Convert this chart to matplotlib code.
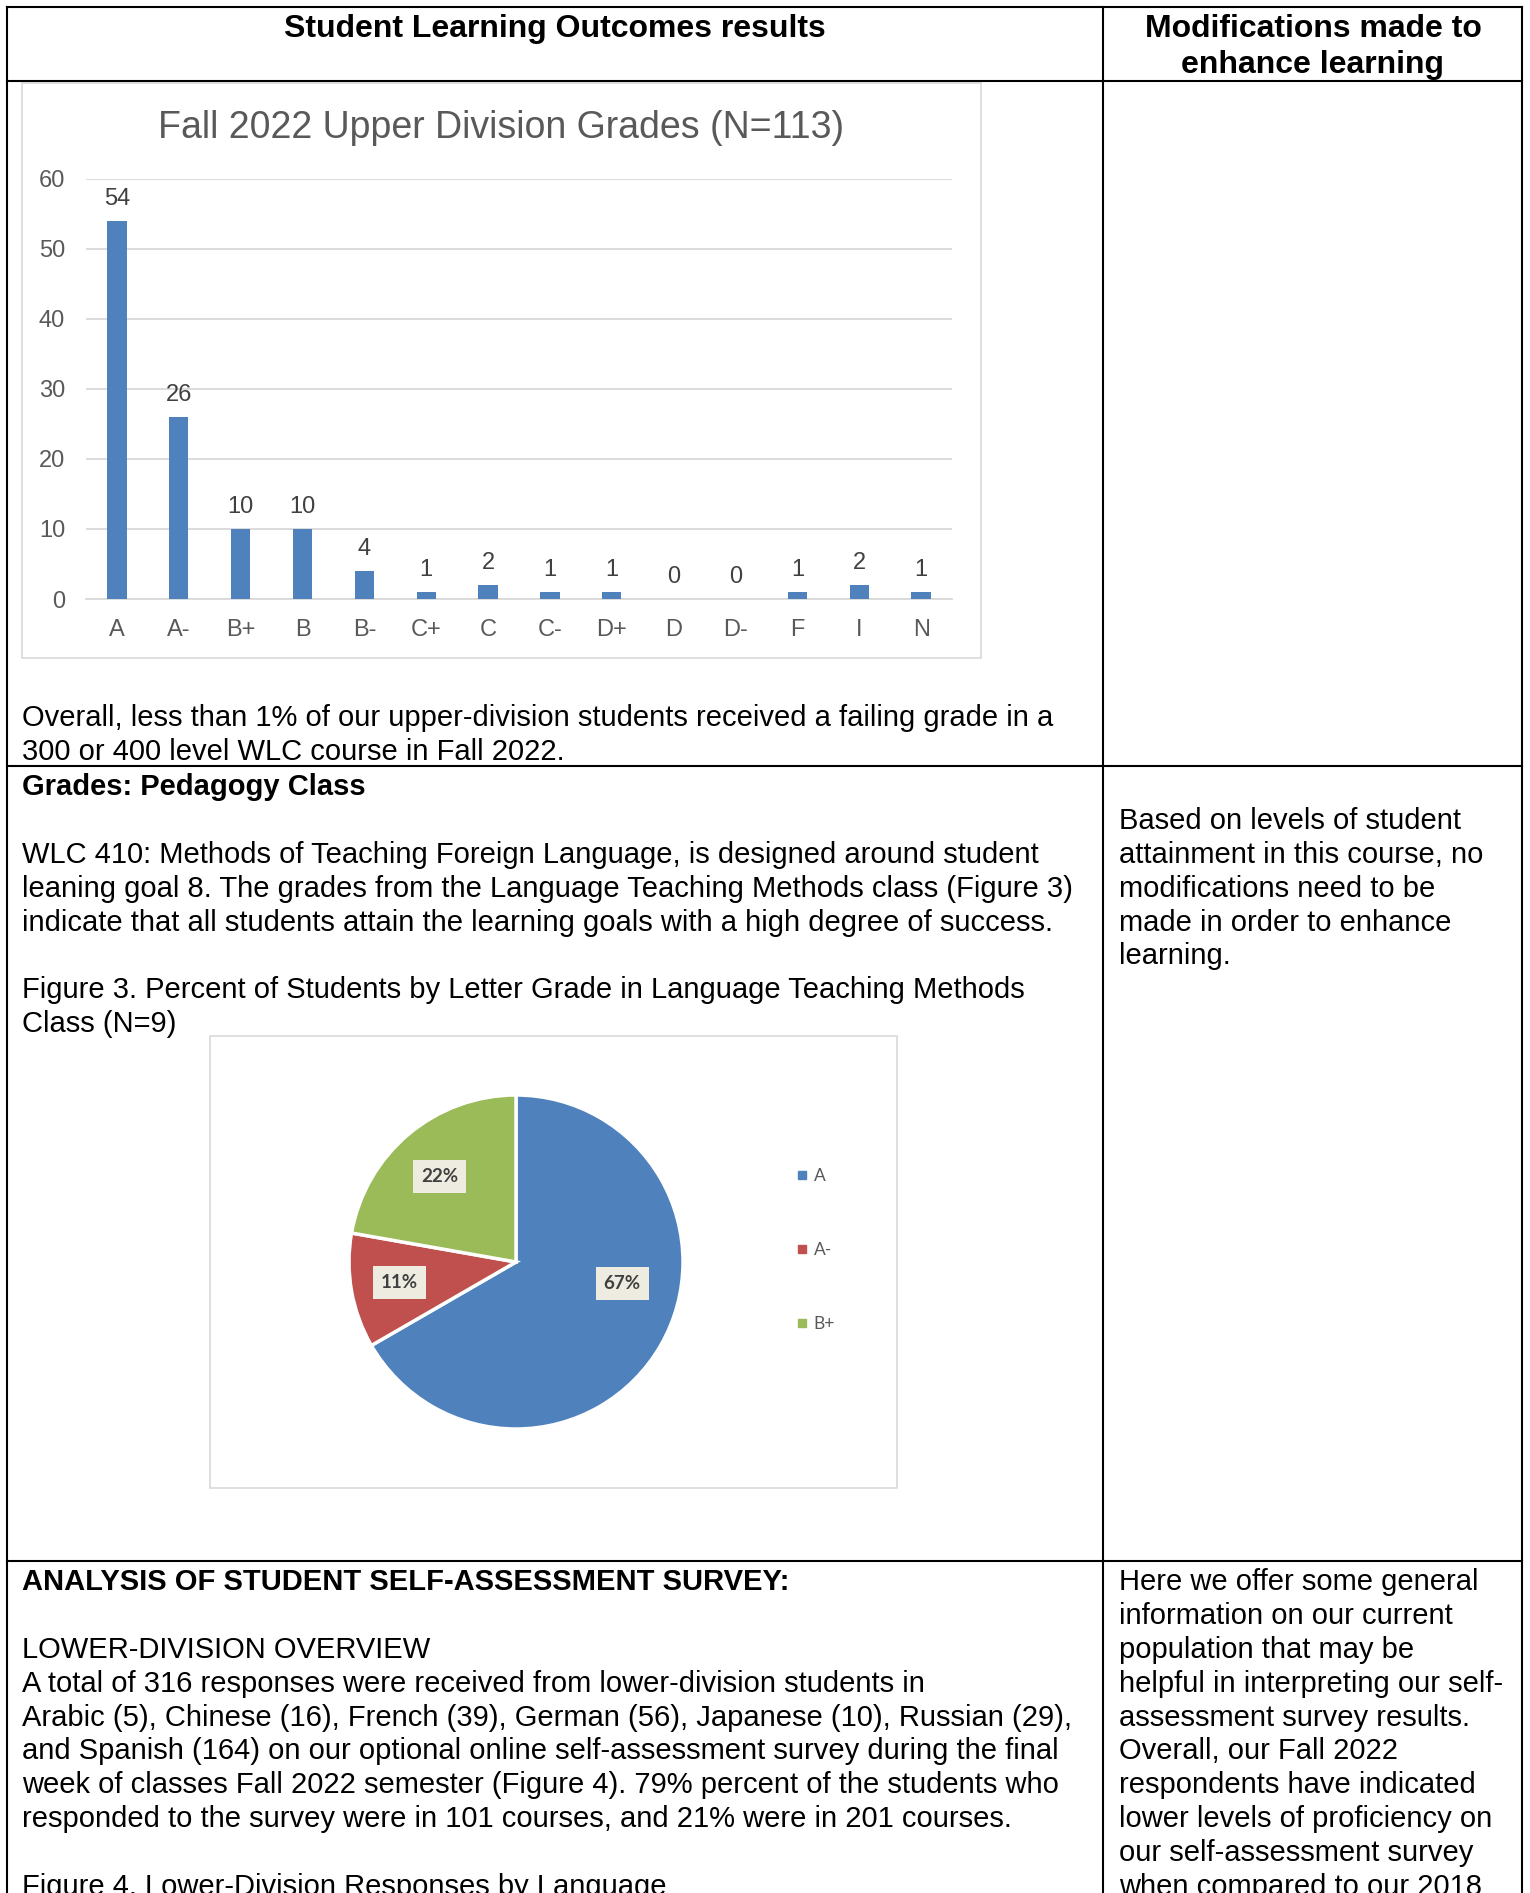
import numpy as np
import matplotlib.pyplot as plt
from matplotlib.patches import Rectangle
from matplotlib.lines import Line2D

plt.rcParams['font.family'] = ['Liberation Sans', 'DejaVu Sans']

# upper division grade counts, Fall 2022
grades = ['A', 'A-', 'B+', 'B', 'B-', 'C+', 'C', 'C-', 'D+', 'D', 'D-', 'F', 'I', 'N']
counts = [54, 26, 10, 10, 4, 1, 2, 1, 1, 0, 0, 1, 2, 1]

# WLC 410 methods class (N=9)
pie_grades = ['A', 'A-', 'B+']
pie_counts = [6, 1, 2]
pie_colors = ['#4F81BD', '#C0504D', '#9BBB59']

header_left = 'Student Learning Outcomes results'
header_right = ['Modifications made to', 'enhance learning']

row1_text = ['Overall, less than 1% of our upper-division students received a failing grade in a',
             '300 or 400 level WLC course in Fall 2022.']
row2_title = 'Grades: Pedagogy Class'
row2_text = ['WLC 410: Methods of Teaching Foreign Language, is designed around student',
             'leaning goal 8. The grades from the Language Teaching Methods class (Figure 3)',
             'indicate that all students attain the learning goals with a high degree of success.']
row2_caption = ['Figure 3. Percent of Students by Letter Grade in Language Teaching Methods',
                'Class (N=9)']
row2_right = ['Based on levels of student', 'attainment in this course, no',
              'modifications need to be', 'made in order to enhance', 'learning.']
row3_title = 'ANALYSIS OF STUDENT SELF-ASSESSMENT SURVEY:'
row3_text = ['LOWER-DIVISION OVERVIEW',
             'A total of 316 responses were received from lower-division students in',
             'Arabic (5), Chinese (16), French (39), German (56), Japanese (10), Russian (29),',
             'and Spanish (164) on our optional online self-assessment survey during the final',
             'week of classes Fall 2022 semester (Figure 4). 79% percent of the students who',
             'responded to the survey were in 101 courses, and 21% were in 201 courses.',
             '',
             'Figure 4. Lower-Division Responses by Language']
row3_right = ['Here we offer some general', 'information on our current',
              'population that may be', 'helpful in interpreting our self-',
              'assessment survey results.', 'Overall, our Fall 2022',
              'respondents have indicated', 'lower levels of proficiency on',
              'our self-assessment survey', 'when compared to our 2018']

W, H = 1530, 1893
fig = plt.figure(figsize=(W / 100, H / 100), dpi=100)
page = fig.add_axes([0, 0, 1, 1])
page.set_xlim(0, W)
page.set_ylim(H, 0)
page.axis('off')


def px_rect(x0, y0, x1, y1):
    return [x0 / W, 1 - y1 / H, (x1 - x0) / W, (y1 - y0) / H]


# table grid
lw = 1.5
for y in [7, 81, 765.5, 1561]:
    page.plot([7, 1522], [y, y], color='black', lw=lw, solid_capstyle='projecting')
for x in [7, 1103.5, 1522]:
    page.plot([x, x], [7, H + 5], color='black', lw=lw, solid_capstyle='projecting')

FS = 21
LS = 33.8
dy = 2.4
page.text(555, 27 + dy, header_left, ha='center', va='center', fontsize=23, weight='bold')
for i, s in enumerate(header_right):
    page.text(1313, 27 + dy + i * 36, s, ha='center', va='center', fontsize=23, weight='bold')


def block(x, y, lines, **kw):
    for i, s in enumerate(lines):
        page.text(x, y + dy + i * LS, s, ha='left', va='center', fontsize=FS, **kw)


block(22, 716, row1_text)
block(22, 785, [row2_title], weight='bold')
block(22, 785 + 2 * LS, row2_text)
block(22, 785 + 6 * LS, row2_caption)
block(1119, 785 + LS, row2_right)
block(22, 1580, [row3_title], weight='bold')
block(22, 1580 + 2 * LS, row3_text)
block(1119, 1580, row3_right)

# chart frames
page.add_patch(Rectangle((22, 83), 959, 575, facecolor='white', edgecolor='#D9D9D9', lw=1.2))
page.add_patch(Rectangle((210, 1036), 687, 452, facecolor='white', edgecolor='#D9D9D9', lw=1.2))

# bar chart
page.text(501, 128, 'Fall 2022 Upper Division Grades (N=113)', ha='center', va='center',
          fontsize=27, color='#595959')
ax = fig.add_axes(px_rect(86, 178.7, 952, 599))
x = np.arange(len(grades))
bars = ax.bar(x, counts, width=0.31, color='#4F81BD', zorder=3)
ax.bar_label(bars, padding=8, fontsize=17, color='#404040')
ax.set_xlim(-0.5, len(grades) - 0.5)
ax.set_ylim(0, 60)
ax.set_yticks(range(0, 61, 10))
ax.set_xticks(x)
ax.set_xticklabels(grades)
ax.grid(axis='y', color='#D9D9D9', lw=1.3, zorder=0)
for side in ['top', 'right', 'left']:
    ax.spines[side].set_visible(False)
ax.spines['bottom'].set_color('#D9D9D9')
ax.spines['bottom'].set_linewidth(1.3)
ax.tick_params(axis='both', length=0, labelsize=17, colors='#595959')
ax.tick_params(axis='y', pad=15)
ax.tick_params(axis='x', pad=14.5)
ax.patch.set_alpha(0)

# pie chart
cx, cy, r = 516, 1262, 167
axp = fig.add_axes(px_rect(cx - r, cy - r, cx + r, cy + r))
wedges, texts, autotexts = axp.pie(
    pie_counts, colors=pie_colors, startangle=90, counterclock=False,
    autopct=lambda p: f'{p:.0f}%', pctdistance=0.71,
    wedgeprops=dict(edgecolor='white', linewidth=2.5),
    textprops=dict(family='Lato', weight='bold', fontsize=13.5, color='#404040'))
axp.set_xlim(-1, 1)
axp.set_ylim(-1, 1)
for t in autotexts:
    t.set_bbox(dict(boxstyle='square,pad=0.42', facecolor='#EEECE1', edgecolor='none'))
# largest slice label sits off its midpoint
w = wedges[0]
ang = np.deg2rad((w.theta1 + w.theta2) / 2 + 18)
autotexts[0].set_position((0.65 * np.cos(ang), 0.63 * np.sin(ang)))
autotexts[2].set_position(np.array(autotexts[2].get_position()) + [0, -0.03])

handles = [Line2D([], [], marker='s', ls='none', color=c, markersize=5.2) for c in pie_colors]
fig.legend(handles, pie_grades, loc='center left', bbox_to_anchor=(797 / W, 1 - 1250 / H),
           frameon=False, labelspacing=3.35, handlelength=0.6, handletextpad=0.35,
           borderpad=0, borderaxespad=0, labelcolor='#595959',
           prop=dict(family='Lato', size=12.5))

fig.savefig('out.png', dpi=100)
